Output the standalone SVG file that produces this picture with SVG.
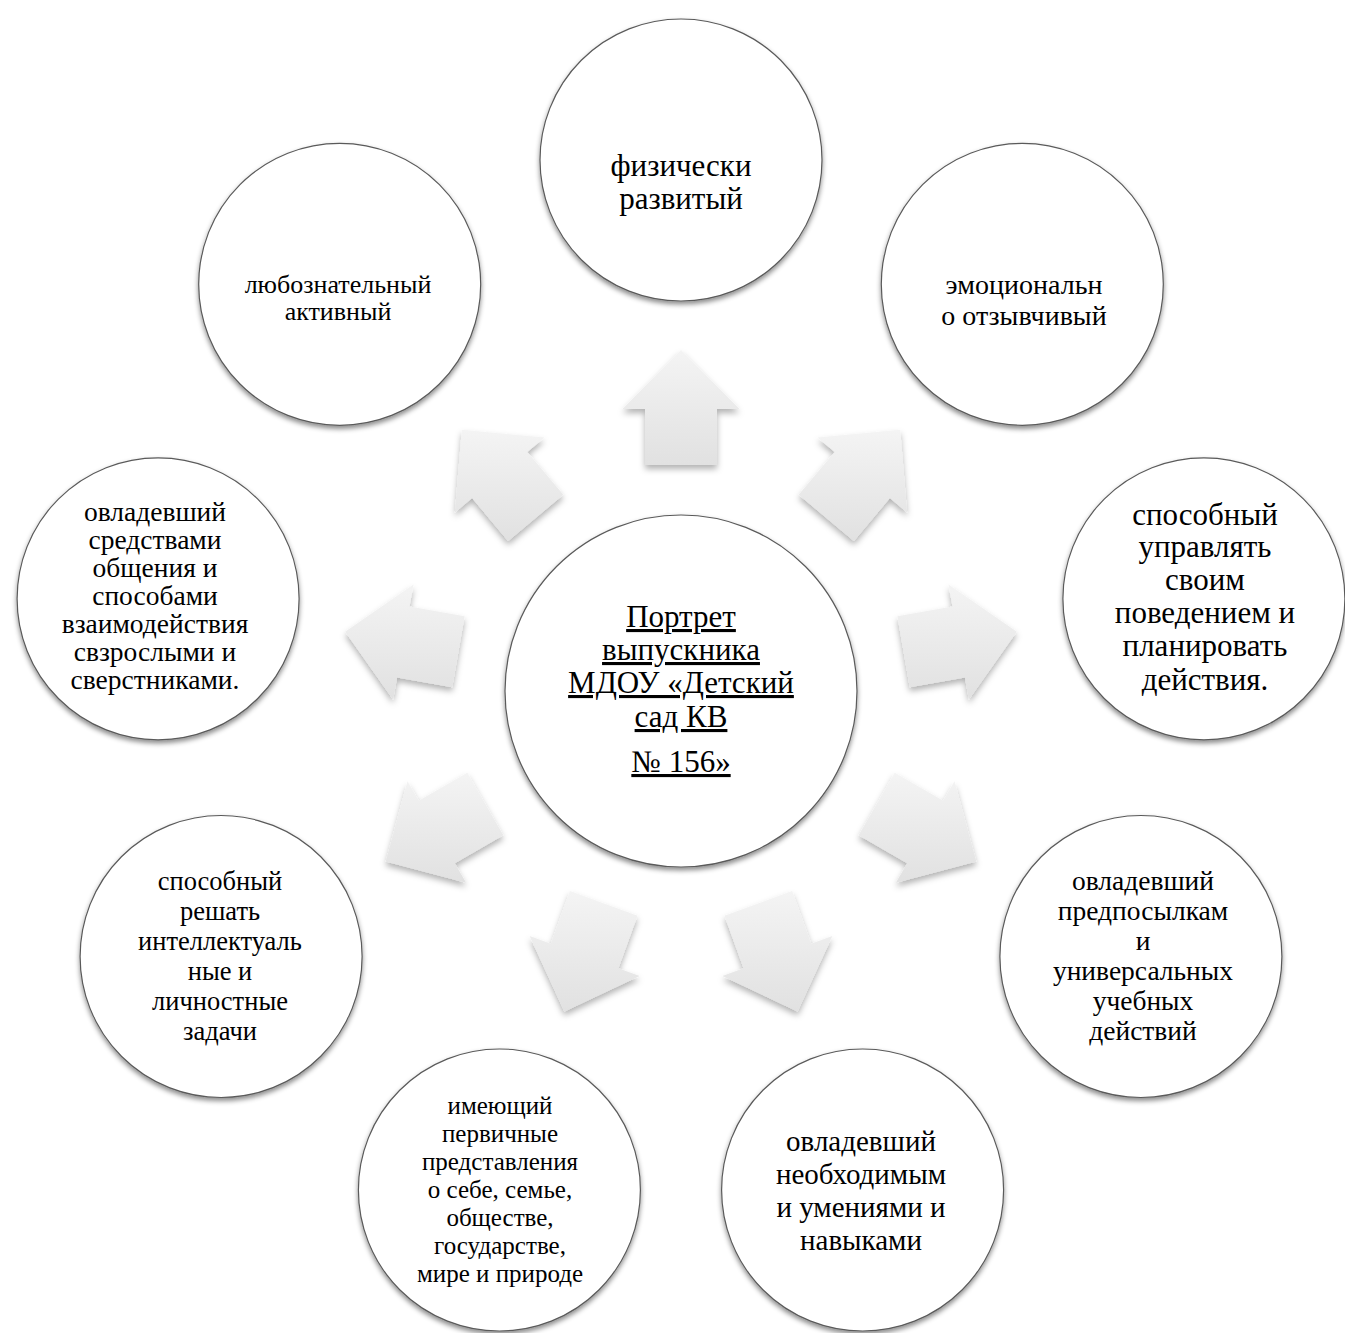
<svg xmlns="http://www.w3.org/2000/svg" width="1345" height="1333" viewBox="0 0 1345 1333">
<defs>
<style>
.c{fill:#fff;stroke:#5a5a5a;stroke-width:1.2}
.a{fill:url(#ag)}
text{font-family:"Liberation Serif","Times New Roman",serif;fill:#000;text-anchor:middle}
.u{text-decoration:underline}
</style>
<linearGradient id="ag" x1="0" y1="0" x2="0" y2="1">
<stop offset="0" stop-color="#f4f4f4"/>
<stop offset="1" stop-color="#e1e1e1"/>
</linearGradient>
<filter id="cs" x="-10%" y="-10%" width="120%" height="125%">
<feDropShadow dx="0" dy="3" stdDeviation="2.5" flood-color="#000" flood-opacity="0.45"/>
</filter>
<filter id="as" x="-20%" y="-20%" width="140%" height="150%">
<feDropShadow dx="0" dy="4" stdDeviation="3" flood-color="#000" flood-opacity="0.3"/>
</filter>
</defs>
<rect width="1345" height="1333" fill="#fff"/>

<g id="connectors" filter="url(#as)">
<polygon class="a" points="681,350 739.5,409 717,409 717,465 645,465 645,409 622.5,409"/>
<polygon class="a" points="900.2,429.8 907.1,512.6 889.9,498.1 853.9,541 798.7,494.8 834.7,451.9 817.5,437.4"/>
<polygon class="a" points="1016.8,631.8 968.9,699.6 964.9,677.5 909.8,687.3 897.4,616.3 952.5,606.5 948.5,584.4"/>
<polygon class="a" points="976.3,861.5 895.9,882.7 907.2,863.2 858.7,835.2 894.7,772.8 943.2,800.8 954.5,781.3"/>
<polygon class="a" points="797.6,1011.4 722.4,976 743.6,968.3 724.5,915.7 792.1,891.1 811.2,943.7 832.4,936"/>
<polygon class="a" points="564.4,1011.4 639.6,976 618.4,968.3 637.5,915.7 569.9,891.1 550.8,943.7 529.6,936"/>
<polygon class="a" points="385.7,861.5 466.1,882.7 454.8,863.2 503.3,835.2 467.3,772.8 418.8,800.8 407.5,781.3"/>
<polygon class="a" points="345.2,631.8 393.1,699.6 397.1,677.5 452.2,687.3 464.6,616.3 409.5,606.5 413.5,584.4"/>
<polygon class="a" points="461.8,429.8 454.9,512.6 472.1,498.1 508.1,541 563.3,494.8 527.3,451.9 544.5,437.4"/>
</g>

<g id="center">
<circle class="c" cx="681" cy="691" r="176" filter="url(#cs)"/>
<text font-size="31" class="u"><tspan x="681" y="627">Портрет</tspan><tspan x="681" y="660">выпускника</tspan><tspan x="681" y="693">МДОУ «Детский</tspan><tspan x="681" y="727">сад КВ</tspan><tspan x="681" y="772">№ 156»</tspan></text>
</g>

<g id="n-top">
<circle class="c" cx="681" cy="160" r="141" filter="url(#cs)"/>
<text font-size="31"><tspan x="681" y="176">физически</tspan><tspan x="681" y="209">развитый</tspan></text>
</g>

<g id="n-topright">
<circle class="c" cx="1022.3" cy="284.3" r="141" filter="url(#cs)"/>
<text font-size="28"><tspan x="1024" y="294">эмоциональн</tspan><tspan x="1024" y="325">о отзывчивый</tspan></text>
</g>

<g id="n-right">
<circle class="c" cx="1203.9" cy="598.8" r="141" filter="url(#cs)"/>
<text font-size="31"><tspan x="1205" y="525">способный</tspan><tspan x="1205" y="557">управлять</tspan><tspan x="1205" y="590">своим</tspan><tspan x="1205" y="623">поведением и</tspan><tspan x="1205" y="656">планировать</tspan><tspan x="1205" y="690">действия.</tspan></text>
</g>

<g id="n-lowerright">
<circle class="c" cx="1140.9" cy="956.5" r="141" filter="url(#cs)"/>
<text font-size="27.5"><tspan x="1143" y="890">овладевший</tspan><tspan x="1143" y="920">предпосылкам</tspan><tspan x="1143" y="950">и</tspan><tspan x="1143" y="980">универсальных</tspan><tspan x="1143" y="1010">учебных</tspan><tspan x="1143" y="1040">действий</tspan></text>
</g>

<g id="n-bottomright">
<circle class="c" cx="862.6" cy="1190" r="141" filter="url(#cs)"/>
<text font-size="29"><tspan x="861" y="1151">овладевший</tspan><tspan x="861" y="1184">необходимым</tspan><tspan x="861" y="1217">и умениями и</tspan><tspan x="861" y="1250">навыками</tspan></text>
</g>

<g id="n-bottomleft">
<circle class="c" cx="499.4" cy="1190" r="141" filter="url(#cs)"/>
<text font-size="25"><tspan x="500" y="1114">имеющий</tspan><tspan x="500" y="1142">первичные</tspan><tspan x="500" y="1170">представления</tspan><tspan x="500" y="1198">о себе, семье,</tspan><tspan x="500" y="1226">обществе,</tspan><tspan x="500" y="1254">государстве,</tspan><tspan x="500" y="1282">мире и природе</tspan></text>
</g>

<g id="n-lowerleft">
<circle class="c" cx="221.1" cy="956.5" r="141" filter="url(#cs)"/>
<text font-size="26.5"><tspan x="220" y="890">способный</tspan><tspan x="220" y="920">решать</tspan><tspan x="220" y="950">интеллектуаль</tspan><tspan x="220" y="980">ные и</tspan><tspan x="220" y="1010">личностные</tspan><tspan x="220" y="1040">задачи</tspan></text>
</g>

<g id="n-left">
<circle class="c" cx="158.1" cy="598.8" r="141" filter="url(#cs)"/>
<text font-size="27.5"><tspan x="155" y="521">овладевший</tspan><tspan x="155" y="549">средствами</tspan><tspan x="155" y="577">общения и</tspan><tspan x="155" y="605">способами</tspan><tspan x="155" y="633">взаимодействия</tspan><tspan x="155" y="661">свзрослыми и</tspan><tspan x="155" y="689">сверстниками.</tspan></text>
</g>

<g id="n-topleft">
<circle class="c" cx="339.7" cy="284.3" r="141" filter="url(#cs)"/>
<text font-size="26"><tspan x="338" y="293">любознательный</tspan><tspan x="338" y="320">активный</tspan></text>
</g>
</svg>
